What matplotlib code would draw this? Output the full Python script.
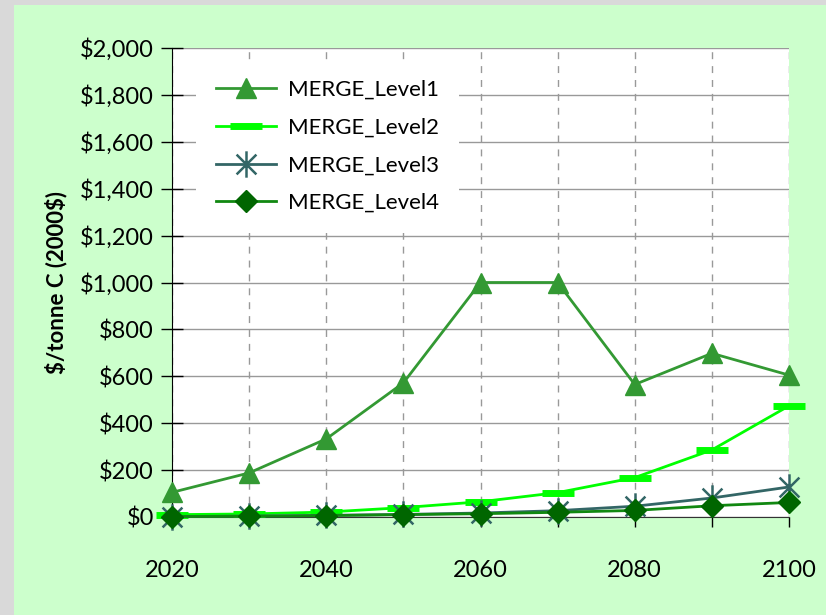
import matplotlib
matplotlib.use("Agg")
import matplotlib.pyplot as plt
from matplotlib.patches import Rectangle
from matplotlib.path import Path
from matplotlib.ticker import MultipleLocator, FuncFormatter

# data
years = [2020, 2030, 2040, 2050, 2060, 2070, 2080, 2090, 2100]
level1 = [105, 188, 333, 572, 1000, 1000, 565, 698, 605]
level2 = [10, 13, 21, 40, 65, 104, 168, 286, 474]
level3 = [2, 4, 7, 11, 17, 27, 46, 81, 128]
level4 = [2, 3, 6, 10, 14, 20, 28, 48, 62]
labels = ["MERGE_Level1", "MERGE_Level2", "MERGE_Level3", "MERGE_Level4"]

plt.rcParams['font.family'] = ['Lato', 'DejaVu Sans']

# excel style asterisk: X plus a vertical stroke
star = Path([(0, -1), (0, 1), (-0.75, -0.75), (0.75, 0.75), (-0.75, 0.75), (0.75, -0.75)],
            [Path.MOVETO, Path.LINETO, Path.MOVETO, Path.LINETO, Path.MOVETO, Path.LINETO])

fig = plt.figure(figsize=(8.26, 6.15), dpi=100, facecolor="#d9d9d9")
# light green panel
fig.patches.append(Rectangle((14 / 826, 0), 1 - 14 / 826, 1 - 5 / 615,
                             transform=fig.transFigure, facecolor="#ccffcc",
                             edgecolor="none", zorder=-5))

ax = fig.add_axes([172 / 826, 1 - 517 / 615, 617 / 826, 469 / 615])
ax.set_facecolor("white")

ax.plot(years, level1, color="#339933", lw=2, marker="^", ms=14,
        label=labels[0], clip_on=False, zorder=5)
ax.plot(years, level2, color="#00ff00", lw=2, marker="_", ms=23, mew=5,
        label=labels[1], clip_on=False, zorder=4)
ax.plot(years, level3, color="#336666", lw=2, marker=star, ms=19, mew=1.8,
        mfc="none", label=labels[2], clip_on=False, zorder=6)
ax.plot(years, level4, color="#118811", lw=2, marker="D", ms=11,
        mfc="#006600", mec="#006600", label=labels[3], clip_on=False, zorder=7)

ax.set_xlim(2020, 2100)
ax.set_ylim(0, 2000)
ax.xaxis.set_major_locator(MultipleLocator(20))
ax.xaxis.set_minor_locator(MultipleLocator(10))
ax.yaxis.set_major_locator(MultipleLocator(200))
ax.yaxis.set_major_formatter(FuncFormatter(lambda v, p: r"\$" + f"{int(v):,}"))

ax.grid(axis="y", color="#999999", lw=1, ls="-")
ax.grid(axis="x", which="both", color="#999999", lw=1, ls=(0, (5, 5)))
ax.set_axisbelow(True)

for s in ["top", "right"]:
    ax.spines[s].set_visible(False)
ax.spines["left"].set_color("black")
ax.spines["bottom"].set_color("#333333")

ax.tick_params(axis="y", direction="inout", length=16, width=1, labelsize=17, pad=5)
ax.tick_params(axis="x", which="both", direction="out", length=7, width=1,
               labelsize=17, pad=24)

ax.set_ylabel(r"\$/tonne C (2000\$)", fontsize=16, fontweight="bold", labelpad=9)

leg = ax.legend(loc="upper left", bbox_to_anchor=(0.039, 0.975), borderaxespad=0,
                fontsize=16, frameon=True, facecolor="white", edgecolor="none",
                framealpha=1, handlelength=2.7, labelspacing=0.8,
                handletextpad=0.55, borderpad=0.9)
leg.get_frame().set_boxstyle("square", pad=0)

fig.savefig("out.png", dpi=100, facecolor=fig.get_facecolor())
